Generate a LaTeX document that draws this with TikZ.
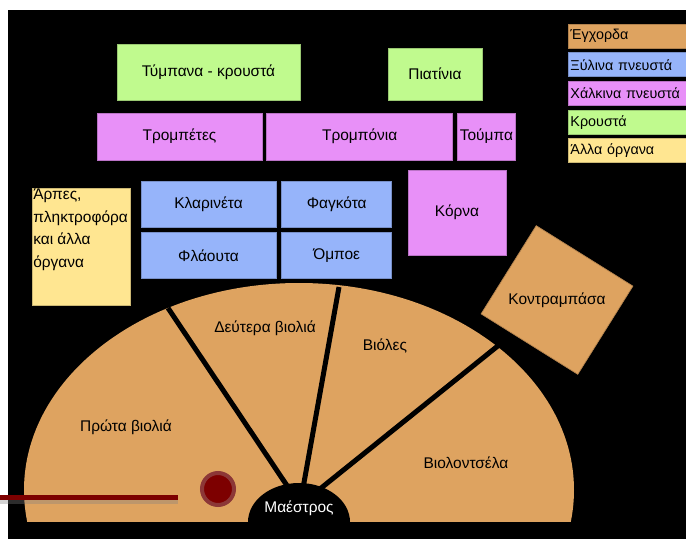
\documentclass[tikz,border=0pt]{standalone}
\usepackage{fontspec}
\setmainfont{Liberation Sans}
\usetikzlibrary{positioning}
\definecolor{strings}{RGB}{222,163,96}
\definecolor{woodwind}{RGB}{150,180,250}
\definecolor{brass}{RGB}{232,144,248}
\definecolor{percussion}{RGB}{192,250,142}
\definecolor{others}{RGB}{255,230,145}
\definecolor{batonred}{RGB}{125,0,0}
\definecolor{batonring}{RGB}{140,55,55}
\newlength{\pxu}
\setlength{\pxu}{0.025cm}
\tikzset{
  section/.style={draw=#1!80!black, fill=#1, line width=0.5pt, inner sep=0pt},
  keybox/.style={section=#1, minimum height=24\pxu, text width=114\pxu, inner sep=1.5pt, align=left, font=\fontsize{10.2}{12}\selectfont},
  divider/.style={line width=5\pxu},
}

\begin{document}
\begin{tikzpicture}[x=0.025cm, y=-0.025cm, font=\fontsize{11}{16}\selectfont]
\useasboundingbox (0,0) rectangle (686,539);
\fill[black] (8,10) rectangle (686,539);

% the strings half circle
\begin{scope}
  \clip (8,10) rectangle (686,521);
  \fill[strings] (299,490) ellipse [x radius=275\pxu, y radius=207\pxu];
  \coordinate (hub) at (300,505);
  \coordinate (cut1) at (168,308);
  \coordinate (cut2) at (339,287);
  \coordinate (cut3) at (499,345);
  \draw[divider] (hub) -- (cut1) (hub) -- (cut2) (hub) -- (cut3);
  \fill[black] (299,522) ellipse [x radius=51\pxu, y radius=39\pxu];
\end{scope}
\node[text=white] (maestro) at (299,508) {Μαέστρος};
\node (firstvl) at (126,427) {Πρώτα βιολιά};
\node (secondvl) at (265,328) {Δεύτερα βιολιά};
\node (violas) at (385,346) {Βιόλες};
\node (cellos) at (466,463) {Βιολοντσέλα};

% pointer
\node[circle, minimum size=32\pxu, inner sep=0pt, line width=4\pxu, draw=batonring, fill=batonred] (baton) at (218,489) {};
\coordinate (ptail) at (0,497);
\coordinate (ptip) at (178,497);
\draw[line width=5\pxu, gray, opacity=.35] ([yshift=-4\pxu]ptail) -- ([yshift=-4\pxu]ptip);
\draw[line width=5\pxu, batonred] (ptail) -- (ptip);

% percussion and brass
\node[section=percussion, minimum width=183\pxu, minimum height=56\pxu] (tympani) at (208.5,72) {Τύμπανα - κρουστά};
\node[section=percussion, minimum width=94\pxu, minimum height=52\pxu] (cymbals) at (435,74) {Πιατίνια};
\node[section=brass, minimum width=165\pxu, minimum height=47\pxu] (trumpets) at (179.5,136.5) {Τρομπέτες};
\node[section=brass, minimum width=186\pxu, minimum height=47\pxu, right=4\pxu of trumpets] (trombones) {Τρομπόνια};
\node[section=brass, minimum width=58\pxu, minimum height=47\pxu, right=4\pxu of trombones] (tuba) {Τούμπα};
\node[section=brass, minimum width=98\pxu, minimum height=85\pxu] (horns) at (457,212.5) {Κόρνα};

% woodwinds
\node[section=woodwind, minimum width=135\pxu, minimum height=46\pxu] (clarinets) at (208.5,204) {Κλαρινέτα};
\node[section=woodwind, minimum width=110\pxu, minimum height=46\pxu, right=5\pxu of clarinets] (bassoons) {Φαγκότα};
\node[section=woodwind, minimum width=135\pxu, minimum height=46\pxu, below=5\pxu of clarinets] (flutes) {Φλάουτα};
\node[section=woodwind, minimum width=110\pxu, minimum height=46\pxu, right=5\pxu of flutes] (oboes) {Όμποε};

% harps and basses
\node[section=others, minimum width=98\pxu, minimum height=117\pxu, anchor=north west] (harps) at (32,188) {};
\node[anchor=north west, align=left, inner sep=1\pxu] (harpstext) at (harps.north west) {Άρπες,\\πληκτροφόρα\\και άλλα\\όργανα};
\node[section=strings, minimum width=114\pxu, minimum height=104\pxu, rotate=-32] (bassbox) at (557,300) {};
\node (basses) at (bassbox.center) {Κοντραμπάσα};

% key
\node[keybox=strings, anchor=west] (kstrings) at (568,36) {Έγχορδα};
\node[keybox=woodwind, below=4\pxu of kstrings] (kwood) {Ξύλινα πνευστά};
\node[keybox=brass, below=4\pxu of kwood] (kbrass) {\mbox{Χάλκινα πνευστά}};
\node[keybox=percussion, below=4\pxu of kbrass] (kperc) {Κρουστά};
\node[keybox=others, below=4\pxu of kperc] (kothers) {Άλλα όργανα};
\end{tikzpicture}
\end{document}
